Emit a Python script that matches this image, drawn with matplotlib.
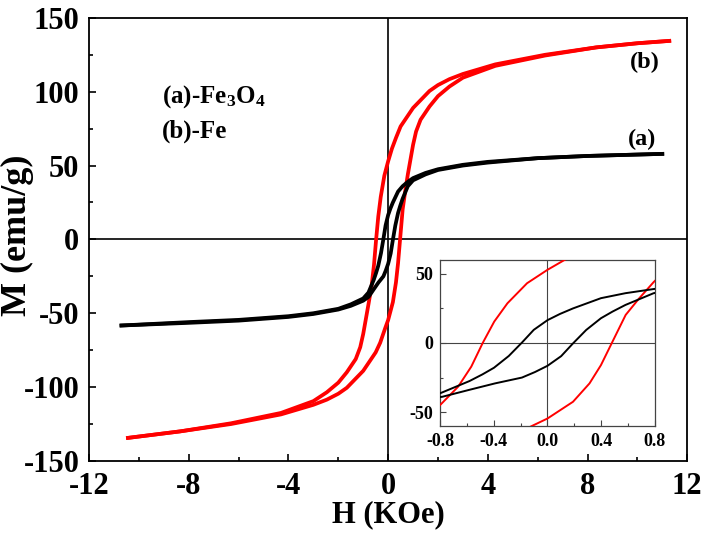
import matplotlib
matplotlib.use("Agg")
import matplotlib.pyplot as plt
from matplotlib.ticker import MultipleLocator

# ---- data ----
# Fe3O4 (a): descending branch
fe3o4_down_H = [11.0, 8.0, 6.0, 4.0, 3.0, 2.0, 1.5, 1.0, 0.79, 0.58, 0.398, 0.19, 0.093, 0.0,
                -0.102, -0.188, -0.288, -0.398, -0.484, -0.58, -0.79, -1.0, -1.5, -2.0, -3.0,
                -4.0, -6.0, -8.0, -10.7]
fe3o4_down_M = [57.9, 56.5, 55.0, 52.5, 50.5, 47.5, 45.0, 41.5, 39.0, 36.0, 32.4, 25.0, 21.0, 16.5,
                9.5, 0.5, -9.4, -17.9, -22.7, -27.5, -36.0, -40.0, -44.0, -47.0, -50.0,
                -52.0, -54.5, -56.0, -58.3]
# Fe3O4 (a): ascending branch
fe3o4_up_H = [-10.7, -8.0, -6.0, -4.0, -3.0, -2.0, -1.5, -1.0, -0.783, -0.587, -0.39, -0.19, -0.093,
              0.0, 0.102, 0.188, 0.288, 0.398, 0.484, 0.58, 0.79, 1.0, 1.5, 2.0, 3.0, 4.0, 6.0, 8.0, 11.0]
fe3o4_up_M = [-58.3, -56.5, -55.0, -52.5, -50.5, -47.5, -45.0, -41.5, -38.9, -34.0, -29.2, -25.0, -21.0,
              -16.5, -9.5, -0.5, 9.4, 17.9, 22.7, 27.5, 36.0, 40.0, 44.0, 47.0, 50.0, 52.0, 55.0, 56.5, 57.9]

# Fe (b): descending branch
fe_down_H = [11.28, 10.0, 8.35, 6.3, 4.3, 3.0, 2.46, 2.0, 1.66, 1.0, 0.5, 0.32, 0.153, 0.0,
             -0.152, -0.298, -0.396, -0.482, -0.567, -0.665, -0.787, -1.0, -1.12, -1.3, -1.66,
             -2.0, -2.46, -3.0, -4.3, -6.3, -8.35, -10.44]
fe_down_M = [134.4, 132.8, 130.0, 125.0, 118.5, 112.0, 108.5, 104.5, 100.5, 89.0, 76.5, 69.0, 61.5, 52.9,
             43.2, 28.7, 15.5, 0.0, -17.1, -31.6, -43.7, -64.0, -73.0, -81.0, -90.0,
             -97.0, -103.5, -109.5, -117.5, -124.5, -130.0, -134.4]
# Fe (b): ascending branch
fe_up_H = [-10.44, -8.35, -6.3, -4.3, -3.0, -2.46, -2.0, -1.66, -1.0, -0.5, -0.32, -0.116, 0.0,
           0.19, 0.313, 0.398, 0.479, 0.582, 0.68, 0.79, 1.0, 1.12, 1.3, 1.66, 2.0, 2.46, 3.0,
           4.3, 6.3, 8.35, 10.0, 11.28]
fe_up_M = [-134.4, -130.0, -125.0, -118.5, -112.0, -108.5, -104.5, -100.5, -89.0, -76.5, -70.0, -60.0, -54.6,
           -42.5, -29.2, -16.0, 0.0, 20.3, 32.0, 44.0, 64.0, 73.0, 81.0, 90.0, 97.0, 103.5, 109.5,
           117.5, 124.5, 130.0, 132.8, 134.4]

x_ticks = [-12, -8, -4, 0, 4, 8, 12]
y_ticks = [-150, -100, -50, 0, 50, 100, 150]
inset_x_ticks = [-0.8, -0.4, 0.0, 0.4, 0.8]
inset_y_ticks = [-50, 0, 50]

FONT = ['Liberation Serif', 'DejaVu Serif']
plt.rcParams['font.family'] = FONT
plt.rcParams['font.weight'] = 'bold'
plt.rcParams['axes.unicode_minus'] = False
plt.rcParams['mathtext.fontset'] = 'custom'
plt.rcParams['mathtext.rm'] = 'Liberation Serif:bold'
plt.rcParams['mathtext.it'] = 'Liberation Serif:bold'
plt.rcParams['mathtext.bf'] = 'Liberation Serif:bold'

fig = plt.figure(figsize=(7.07, 5.41), dpi=100)
ax = fig.add_axes([0.126, 0.148, 0.846, 0.819])

RED = '#ff0000'
LW = 2.7
ax.plot(fe_down_H, fe_down_M, color=RED, lw=LW, zorder=3)
ax.plot(fe_up_H, fe_up_M, color=RED, lw=LW, zorder=3)
ax.plot(fe3o4_down_H, fe3o4_down_M, color='black', lw=LW, zorder=4)
ax.plot(fe3o4_up_H, fe3o4_up_M, color='black', lw=LW, zorder=4)
ax.axhline(0, color='black', lw=1.2, zorder=2)
ax.axvline(0, color='black', lw=1.2, zorder=2)

ax.set_xlim(-12, 12)
ax.set_ylim(-150, 150)
ax.set_xticks(x_ticks)
ax.set_yticks(y_ticks)
ax.xaxis.set_minor_locator(MultipleLocator(2))
ax.yaxis.set_minor_locator(MultipleLocator(25))
ax.tick_params(which='both', direction='in', top=False, right=False, width=1.2)
ax.tick_params(which='major', length=5, labelsize=22)
ax.tick_params(axis='x', which='major', pad=8)
ax.tick_params(axis='y', which='major', pad=7)
ax.tick_params(which='minor', length=3)
for s in ax.spines.values():
    s.set_linewidth(1.3)
for lab in ax.get_xticklabels() + ax.get_yticklabels():
    lab.set_fontweight('bold')
ax.set_xlabel('H (KOe)', fontsize=22, fontweight='bold')
ax.set_ylabel('M (emu/g)', fontsize=26, fontweight='bold')
ax.xaxis.set_label_coords(0.5, -0.088)
ax.yaxis.set_label_coords(-0.092, 0.51)

ax.text(-9.07, 97, r'(a)-Fe$_3$O$_4$', fontsize=18, fontweight='bold', va='center', ha='left')
ax.text(-9.07, 73.5, '(b)-Fe', fontsize=18, fontweight='bold', va='center', ha='left')
ax.text(10.3, 119.5, '(b)', fontsize=17.5, fontweight='bold', va='center', ha='center')
ax.text(10.2, 67.4, '(a)', fontsize=17.5, fontweight='bold', va='center', ha='center')

# inset
ins = fig.add_axes([0.6223, 0.2126, 0.3041, 0.3068])
ins.set_facecolor('white')
ins.plot(fe_down_H, fe_down_M, color=RED, lw=1.4, zorder=3)
ins.plot(fe_up_H, fe_up_M, color=RED, lw=1.4, zorder=3)
ins.plot(fe3o4_down_H, fe3o4_down_M, color='black', lw=1.4, zorder=4)
ins.plot(fe3o4_up_H, fe3o4_up_M, color='black', lw=1.4, zorder=4)
ins.axhline(0, color='#444444', lw=0.8, zorder=2)
ins.axvline(0, color='#444444', lw=0.8, zorder=2)
ins.set_xlim(-0.8, 0.8)
ins.set_ylim(-60, 60)
ins.set_xticks(inset_x_ticks)
ins.set_yticks(inset_y_ticks)
ins.xaxis.set_minor_locator(MultipleLocator(0.2))
ins.yaxis.set_minor_locator(MultipleLocator(25))
ins.tick_params(which='both', direction='in', top=False, right=False, width=0.8, color='#444444')
ins.tick_params(which='major', length=4, labelsize=13, pad=5)
ins.tick_params(which='minor', length=2)
for s in ins.spines.values():
    s.set_linewidth(0.9)
    s.set_color('#444444')
for lab in ins.get_xticklabels() + ins.get_yticklabels():
    lab.set_fontweight('bold')

fig.savefig('out.png', dpi=100)
